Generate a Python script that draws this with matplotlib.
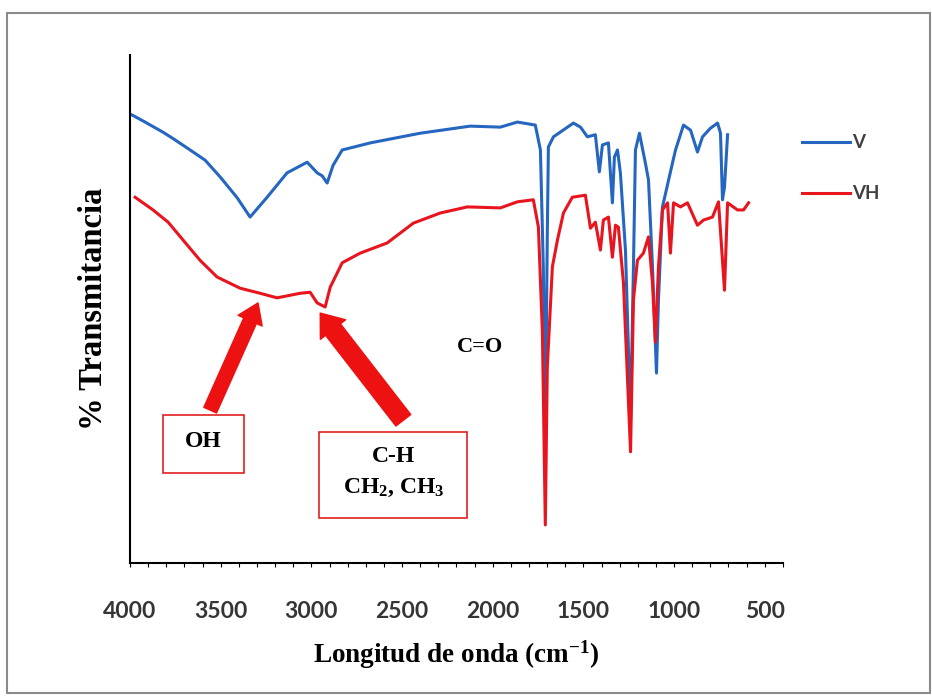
import matplotlib
matplotlib.use("Agg")
import matplotlib.pyplot as plt
from matplotlib.patches import Rectangle
from matplotlib.ticker import MultipleLocator

plt.rcParams["mathtext.fontset"] = "custom"
plt.rcParams["mathtext.bf"] = "Liberation Serif:bold"
plt.rcParams["mathtext.rm"] = "Liberation Serif"
plt.rcParams["mathtext.it"] = "Liberation Serif:italic"

# espectro V (azul)
wn_v = [3989, 3917, 3818, 3752, 3685, 3586, 3503, 3409, 3338, 3244, 3134, 3023,
        2968, 2940, 2913, 2880, 2830, 2675, 2400, 2124, 1958, 1864, 1765, 1737,
        1721, 1710, 1699, 1693, 1665, 1555, 1516, 1478, 1434, 1412, 1395, 1362,
        1340, 1329, 1312, 1296, 1268, 1240, 1224, 1213, 1191, 1158, 1141, 1119,
        1097, 1086, 1064, 1009, 992, 948, 909, 871, 843, 799, 760, 744, 733, 722, 705]
t_v = [88.2, 86.8, 84.8, 83.3, 81.7, 79.3, 76.0, 71.9, 68.1, 72.0, 76.8, 78.9,
       76.8, 76.2, 74.8, 78.3, 81.3, 82.7, 84.6, 86.0, 85.8, 86.8, 86.2, 81.3,
       58.3, 24.2, 65.0, 81.9, 83.9, 86.6, 85.8, 83.9, 84.3, 77.0, 82.3, 82.7,
       70.9, 79.9, 81.3, 76.8, 61.6, 28.1, 58.3, 81.3, 84.6, 78.7, 75.4, 58.3,
       37.4, 51.8, 70.1, 78.7, 81.3, 86.2, 85.2, 80.9, 83.9, 85.6, 86.6, 84.6, 71.5, 74.0, 84.3]

# espectro VH (rojo)
wn_vh = [3972, 3873, 3790, 3708, 3614, 3520, 3393, 3283, 3189, 3062, 3007, 2968,
         2924, 2896, 2830, 2731, 2582, 2438, 2289, 2140, 1958, 1864, 1776, 1748,
         1726, 1710, 1699, 1671, 1643, 1610, 1561, 1489, 1461, 1434, 1406, 1390,
         1362, 1340, 1323, 1307, 1279, 1252, 1240, 1224, 1202, 1169, 1141, 1119,
         1103, 1086, 1064, 1036, 1020, 1003, 965, 926, 871, 838, 788, 755, 722,
         705, 650, 617, 589]
t_vh = [72.0, 69.5, 67.1, 63.6, 59.6, 56.3, 54.1, 53.1, 52.2, 53.1, 53.3, 51.2,
        50.4, 54.3, 59.1, 61.0, 63.0, 66.9, 68.9, 70.1, 69.9, 71.1, 71.5, 66.1,
        45.3, 7.5, 38.6, 58.3, 63.6, 68.9, 72.0, 72.4, 65.9, 67.1, 61.6, 67.5,
        68.1, 60.2, 66.5, 66.1, 55.1, 32.1, 21.9, 51.8, 59.6, 61.0, 64.2, 55.1,
        43.5, 58.3, 69.5, 70.9, 61.0, 70.9, 70.1, 70.9, 66.5, 67.5, 68.1, 71.1,
        53.7, 70.9, 69.5, 69.5, 70.9]

serif = "Liberation Serif"
sans = "Lato"

fig = plt.figure(figsize=(9.32, 6.96), dpi=100)
ax = fig.add_axes([0.1395, 0.191, 0.7005, 0.730])

ax.plot(wn_v, t_v, color="#2466c0", lw=2.2, label="V")
ax.plot(wn_vh, t_vh, color="#e8141e", lw=2.2, label="VH")

ax.set_xlim(4000, 400)
ax.set_ylim(0, 100)
ax.xaxis.set_major_locator(MultipleLocator(500))
ax.xaxis.set_minor_locator(MultipleLocator(100))
ax.tick_params(axis="x", which="both", direction="out", length=3, width=0.8, pad=24,
               labelsize=16.5, labelcolor="#353535")
for lab in ax.get_xticklabels():
    lab.set_fontfamily(sans)
    lab.set_fontweight("bold")
ax.set_yticks([])
ax.spines["top"].set_visible(False)
ax.spines["right"].set_visible(False)
ax.spines["left"].set_linewidth(1.5)
ax.spines["bottom"].set_linewidth(1.5)

ax.set_xlabel("Longitud de onda (cm$^{\\mathbf{-1}}$)", fontfamily=serif, fontweight="bold",
              fontsize=19.5, labelpad=12)
ax.set_ylabel("% Transmitancia", fontfamily=serif, fontweight="bold", fontsize=23.5, labelpad=15)

# flechas y cajas
ax.annotate("", xy=(3294, 51.2), xytext=(3558, 30.1),
            arrowprops=dict(arrowstyle="simple,head_width=1.9,head_length=1.4,tail_width=1.0",
                            fc="#ee1111", ec="#ee1111", mutation_scale=10, shrinkA=0, shrinkB=0))
ax.annotate("", xy=(2951, 49.2), xytext=(2493, 28.1),
            arrowprops=dict(arrowstyle="simple,head_width=2.3,head_length=1.5,tail_width=1.35",
                            fc="#ee1111", ec="#ee1111", mutation_scale=10, shrinkA=0, shrinkB=0))

ax.add_patch(Rectangle((3818, 17.7), 3371 - 3818, 29.1 - 17.7, fill=False, ec="#e02020", lw=1.2))
ax.add_patch(Rectangle((2957, 8.9), 2140 - 2957, 25.8 - 8.9, fill=False, ec="#e02020", lw=1.2))
ax.text(3595, 24.0, "OH", ha="center", va="center", fontfamily=serif, fontweight="bold", fontsize=17)
ax.text(2548, 21.0, "C-H", ha="center", va="center", fontfamily=serif, fontweight="bold", fontsize=17)
ax.text(2548, 14.8, "CH$_\\mathbf{2}$, CH$_\\mathbf{3}$", ha="center", va="center",
        fontfamily=serif, fontweight="bold", fontsize=17)
ax.text(2068, 42.5, "C=O", ha="center", va="center", fontfamily=serif, fontweight="bold", fontsize=16)

leg = ax.legend(loc="upper left", bbox_to_anchor=(0.842, 0.831), bbox_transform=fig.transFigure,
                frameon=False, handlelength=2.6, handletextpad=0.1, labelspacing=1.8,
                prop={"family": sans, "weight": "bold", "size": 13.5})
for t in leg.get_texts():
    t.set_color("#404040")

# marco exterior
fig.patches.append(Rectangle((0.0075, 0.004), 0.99, 0.977, transform=fig.transFigure,
                             fill=False, ec="#8a8a8a", lw=1.5))

fig.savefig("out.png", dpi=100)
